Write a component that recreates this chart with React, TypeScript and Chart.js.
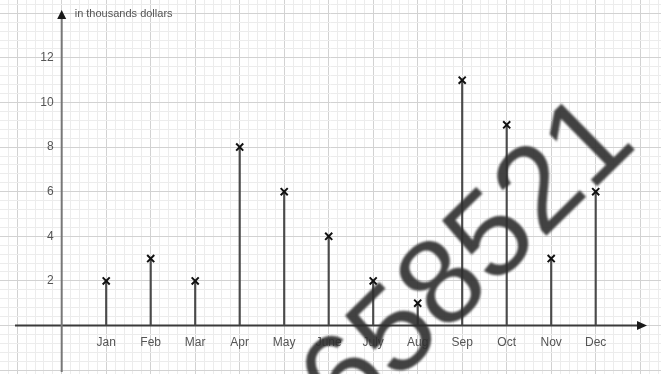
import React, { useEffect, useRef } from "react";
import { Chart, registerables } from "chart.js";

Chart.register(...registerables);

const months = ["Jan", "Feb", "Mar", "Apr", "May", "June", "July", "Aug", "Sep", "Oct", "Nov", "Dec"];
const monthPos = [1, 2, 3, 4, 5, 6, 7, 8, 9, 10, 11, 12];
const sales = [2, 3, 2, 8, 6, 4, 2, 1, 11, 9, 3, 6];
const yTickLabels = [2, 4, 6, 8, 10, 12];
const yTitle = "in thousands dollars";
const watermark = "658521";

const W = 661;
const H = 374;
// target layout: where value 0 sits and pixels per unit
const X_ORIGIN = 61.7;
const X_UNIT = 44.5;
const Y_ORIGIN = 325.5;
const Y_UNIT = 22.3;

const isMajor = (v: number, step: number) => Math.abs(v / step - Math.round(v / step)) < 1e-6;
const gridColor = (step: number) => (c: any) => {
  const v = c && c.tick ? c.tick.value : null;
  if (v === null || v === undefined) return "#ececec";
  return isMajor(v, step) ? "#d2d2d2" : "#ececec";
};

const axesPlugin = {
  id: "customAxes",
  beforeDatasetsDraw(chart: any) {
    const ctx = chart.ctx;
    const xs = chart.scales.x;
    const ys = chart.scales.y;
    const x0 = xs.getPixelForValue(0);
    const y0 = ys.getPixelForValue(0);
    ctx.save();
    ctx.strokeStyle = "#3a3a3a";
    ctx.fillStyle = "#1a1a1a";
    ctx.lineWidth = 2;
    ctx.beginPath();
    ctx.moveTo(15, y0);
    ctx.lineTo(640, y0);
    ctx.stroke();
    ctx.beginPath();
    ctx.moveTo(647, y0);
    ctx.lineTo(637, y0 - 4.5);
    ctx.lineTo(637, y0 + 4.5);
    ctx.closePath();
    ctx.fill();
    ctx.strokeStyle = "#777";
    ctx.beginPath();
    ctx.moveTo(x0, H - 2);
    ctx.lineTo(x0, 18);
    ctx.stroke();
    ctx.beginPath();
    ctx.moveTo(x0, 10);
    ctx.lineTo(x0 - 4.5, 19);
    ctx.lineTo(x0 + 4.5, 19);
    ctx.closePath();
    ctx.fill();

    ctx.fillStyle = "#555";
    ctx.font = "12px 'Liberation Sans', Arial, sans-serif";
    ctx.textAlign = "right";
    ctx.textBaseline = "middle";
    yTickLabels.forEach((v) => {
      ctx.fillText(String(v), x0 - 8, ys.getPixelForValue(v));
    });
    ctx.textAlign = "center";
    months.forEach((m, i) => {
      ctx.fillText(m, xs.getPixelForValue(monthPos[i]), y0 + 17);
    });
    ctx.textAlign = "left";
    ctx.font = "11px 'Liberation Sans', Arial, sans-serif";
    ctx.fillText(yTitle, x0 + 13, 14);
    ctx.restore();
  },
  afterDraw(chart: any) {
    const ctx = chart.ctx;
    ctx.save();
    ctx.translate(348, 430);
    ctx.rotate((-44.4 * Math.PI) / 180);
    ctx.font = "122px 'Liberation Sans', Arial, sans-serif";
    ctx.textAlign = "left";
    ctx.textBaseline = "alphabetic";
    ctx.fillStyle = "rgba(45,45,45,0.9)";
    ctx.filter = "blur(1.2px)";
    ctx.fillText(watermark, 0, 0);
    ctx.restore();
  },
};

export default function App() {
  const ref = useRef<HTMLCanvasElement | null>(null);
  useEffect(() => {
    document.body.style.margin = "0";
    const canvas = ref.current!;
    const chart = new Chart(canvas, {
      type: "bar",
      data: {
        datasets: [
          {
            type: "bar",
            data: monthPos.map((x, i) => ({ x, y: sales[i] })),
            backgroundColor: "#4a4a4a",
            barThickness: 1.5,
            order: 2,
          } as any,
          {
            type: "scatter",
            data: monthPos.map((x, i) => ({ x, y: sales[i] })),
            pointStyle: "crossRot",
            radius: 5,
            borderWidth: 2,
            borderColor: "#111",
            order: 1,
          } as any,
        ],
      },
      options: {
        responsive: false,
        animation: false,
        devicePixelRatio: 1,
        layout: { padding: 0, autoPadding: false },
        plugins: { legend: { display: false }, tooltip: { enabled: false } },
        scales: {
          x: {
            type: "linear",
            offset: false,
            min: -X_ORIGIN / X_UNIT,
            max: (W - X_ORIGIN) / X_UNIT,
            ticks: { display: false, stepSize: 0.2, includeBounds: false },
            grid: { offset: false, drawTicks: false, tickLength: 0, color: gridColor(1), lineWidth: 1 },
            border: { display: false },
          },
          y: {
            type: "linear",
            min: -(H - Y_ORIGIN) / Y_UNIT,
            max: Y_ORIGIN / Y_UNIT,
            ticks: { display: false, stepSize: 0.4, includeBounds: false },
            grid: { drawTicks: false, tickLength: 0, color: gridColor(2), lineWidth: 1 },
            border: { display: false },
          },
        },
      } as any,
      plugins: [axesPlugin],
    });
    const a = chart.chartArea;
    const o: any = chart.options.scales;
    o.x.min = (a.left - X_ORIGIN) / X_UNIT;
    o.x.max = (a.right - X_ORIGIN) / X_UNIT;
    o.y.max = (Y_ORIGIN - a.top) / Y_UNIT;
    o.y.min = (Y_ORIGIN - a.bottom) / Y_UNIT;
    chart.update();
    return () => chart.destroy();
  }, []);
  return (
    <div style={{ position: "fixed", left: 0, top: 0, width: W, height: H, background: "#fff" }}>
      <canvas ref={ref} width={W} height={H} />
    </div>
  );
}
